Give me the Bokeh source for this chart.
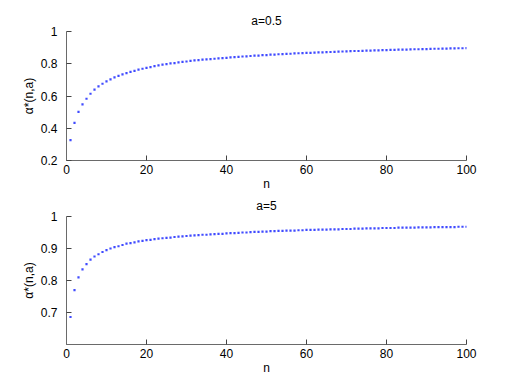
from bokeh.plotting import figure
from bokeh.layouts import column
from bokeh.models import FixedTicker, Range1d
from bokeh.embed import file_html
from bokeh.resources import INLINE

n_values = list(range(1, 101))

alpha_a05 = [
    0.326, 0.433, 0.501, 0.548, 0.583, 0.614, 0.639, 0.660, 0.676, 0.691,
    0.703, 0.716, 0.725, 0.734, 0.742, 0.750, 0.756, 0.763, 0.769, 0.775,
    0.779, 0.785, 0.790, 0.794, 0.798, 0.802, 0.804, 0.808, 0.812, 0.814,
    0.818, 0.821, 0.823, 0.825, 0.827, 0.829, 0.831, 0.833, 0.835, 0.837,
    0.839, 0.841, 0.843, 0.845, 0.846, 0.848, 0.850, 0.851, 0.853, 0.854,
    0.856, 0.857, 0.859, 0.860, 0.861, 0.862, 0.864, 0.865, 0.866, 0.867,
    0.868, 0.869, 0.870, 0.871, 0.872, 0.873, 0.874, 0.875, 0.876, 0.877,
    0.878, 0.879, 0.879, 0.880, 0.881, 0.882, 0.883, 0.883, 0.884, 0.885,
    0.886, 0.886, 0.887, 0.888, 0.888, 0.889, 0.890, 0.890, 0.891, 0.891,
    0.892, 0.893, 0.893, 0.894, 0.894, 0.895, 0.895, 0.896, 0.896, 0.897,
]

alpha_a5 = [
    0.686, 0.770, 0.810, 0.835, 0.851, 0.865, 0.875, 0.882, 0.889, 0.895,
    0.900, 0.904, 0.907, 0.911, 0.915, 0.917, 0.919, 0.922, 0.924, 0.926,
    0.927, 0.929, 0.931, 0.932, 0.933, 0.934, 0.936, 0.937, 0.938, 0.939,
    0.940, 0.941, 0.942, 0.943, 0.943, 0.944, 0.945, 0.946, 0.946, 0.947,
    0.948, 0.948, 0.949, 0.950, 0.950, 0.951, 0.952, 0.952, 0.953, 0.953,
    0.954, 0.954, 0.955, 0.955, 0.956, 0.956, 0.956, 0.957, 0.957, 0.958,
    0.958, 0.958, 0.959, 0.959, 0.959, 0.960, 0.960, 0.960, 0.961, 0.961,
    0.961, 0.962, 0.962, 0.962, 0.963, 0.963, 0.963, 0.963, 0.964, 0.964,
    0.964, 0.964, 0.965, 0.965, 0.965, 0.965, 0.965, 0.966, 0.966, 0.966,
    0.966, 0.967, 0.967, 0.967, 0.967, 0.967, 0.967, 0.968, 0.968, 0.968,
]

x_ticks = [0, 20, 40, 60, 80, 100]
top_y_ticks = [0.2, 0.4, 0.6, 0.8, 1.0]
bottom_y_ticks = [0.7, 0.8, 0.9, 1.0]

FONT = "Liberation Sans"
AXIS_COLOR = "#6a6a6a"


def make_panel(title, values, y_start, y_ticks, top_border, frame_h):
    p = figure(
        frame_width=400, frame_height=frame_h,
        min_border_left=66, min_border_right=34,
        min_border_top=top_border, min_border_bottom=0,
        x_range=Range1d(0, 100), y_range=Range1d(y_start, 1.0),
        output_backend="svg", toolbar_location=None, title=title,
    )
    p.title.align = "center"
    p.title.text_font = FONT
    p.title.text_font_size = "12px"
    p.title.text_font_style = "normal"
    p.title.text_color = "black"
    p.title.standoff = 7
    p.xgrid.visible = False
    p.ygrid.visible = False
    p.outline_line_color = None
    p.background_fill_color = "white"
    p.border_fill_color = "white"

    p.xaxis.ticker = FixedTicker(ticks=x_ticks)
    p.yaxis.ticker = FixedTicker(ticks=y_ticks)
    p.yaxis.formatter.use_scientific = False
    for ax in (p.xaxis, p.yaxis):
        ax.axis_line_color = AXIS_COLOR
        ax.major_tick_line_color = "#444444"
        ax.major_tick_in = 5
        ax.major_tick_out = 0
        ax.minor_tick_line_color = None
        ax.major_label_text_font = FONT
        ax.major_label_text_font_size = "12px"
        ax.major_label_text_color = "black"
        ax.axis_label_text_font = FONT
        ax.axis_label_text_font_size = "12px"
        ax.axis_label_text_font_style = "normal"
        ax.axis_label_text_color = "black"
    p.xaxis.major_label_standoff = 4
    p.xaxis.axis_label = "n"
    p.xaxis.axis_label_standoff = 0
    p.yaxis.major_label_standoff = 9
    p.yaxis.axis_label = "α*(n,a)"
    p.yaxis.axis_label_standoff = 2

    p.scatter(n_values, values, marker="square", size=2.2,
              fill_color="#1f2bff", line_color=None, fill_alpha=0.85)
    return p


p1 = make_panel("a=0.5", alpha_a05, 0.2, top_y_ticks, 31, 129)
p2 = make_panel("a=5", alpha_a5, 0.6, bottom_y_ticks, 22, 128)

layout = column(p1, p2, spacing=0)

open("out.html", "w").write(file_html(layout, INLINE))
